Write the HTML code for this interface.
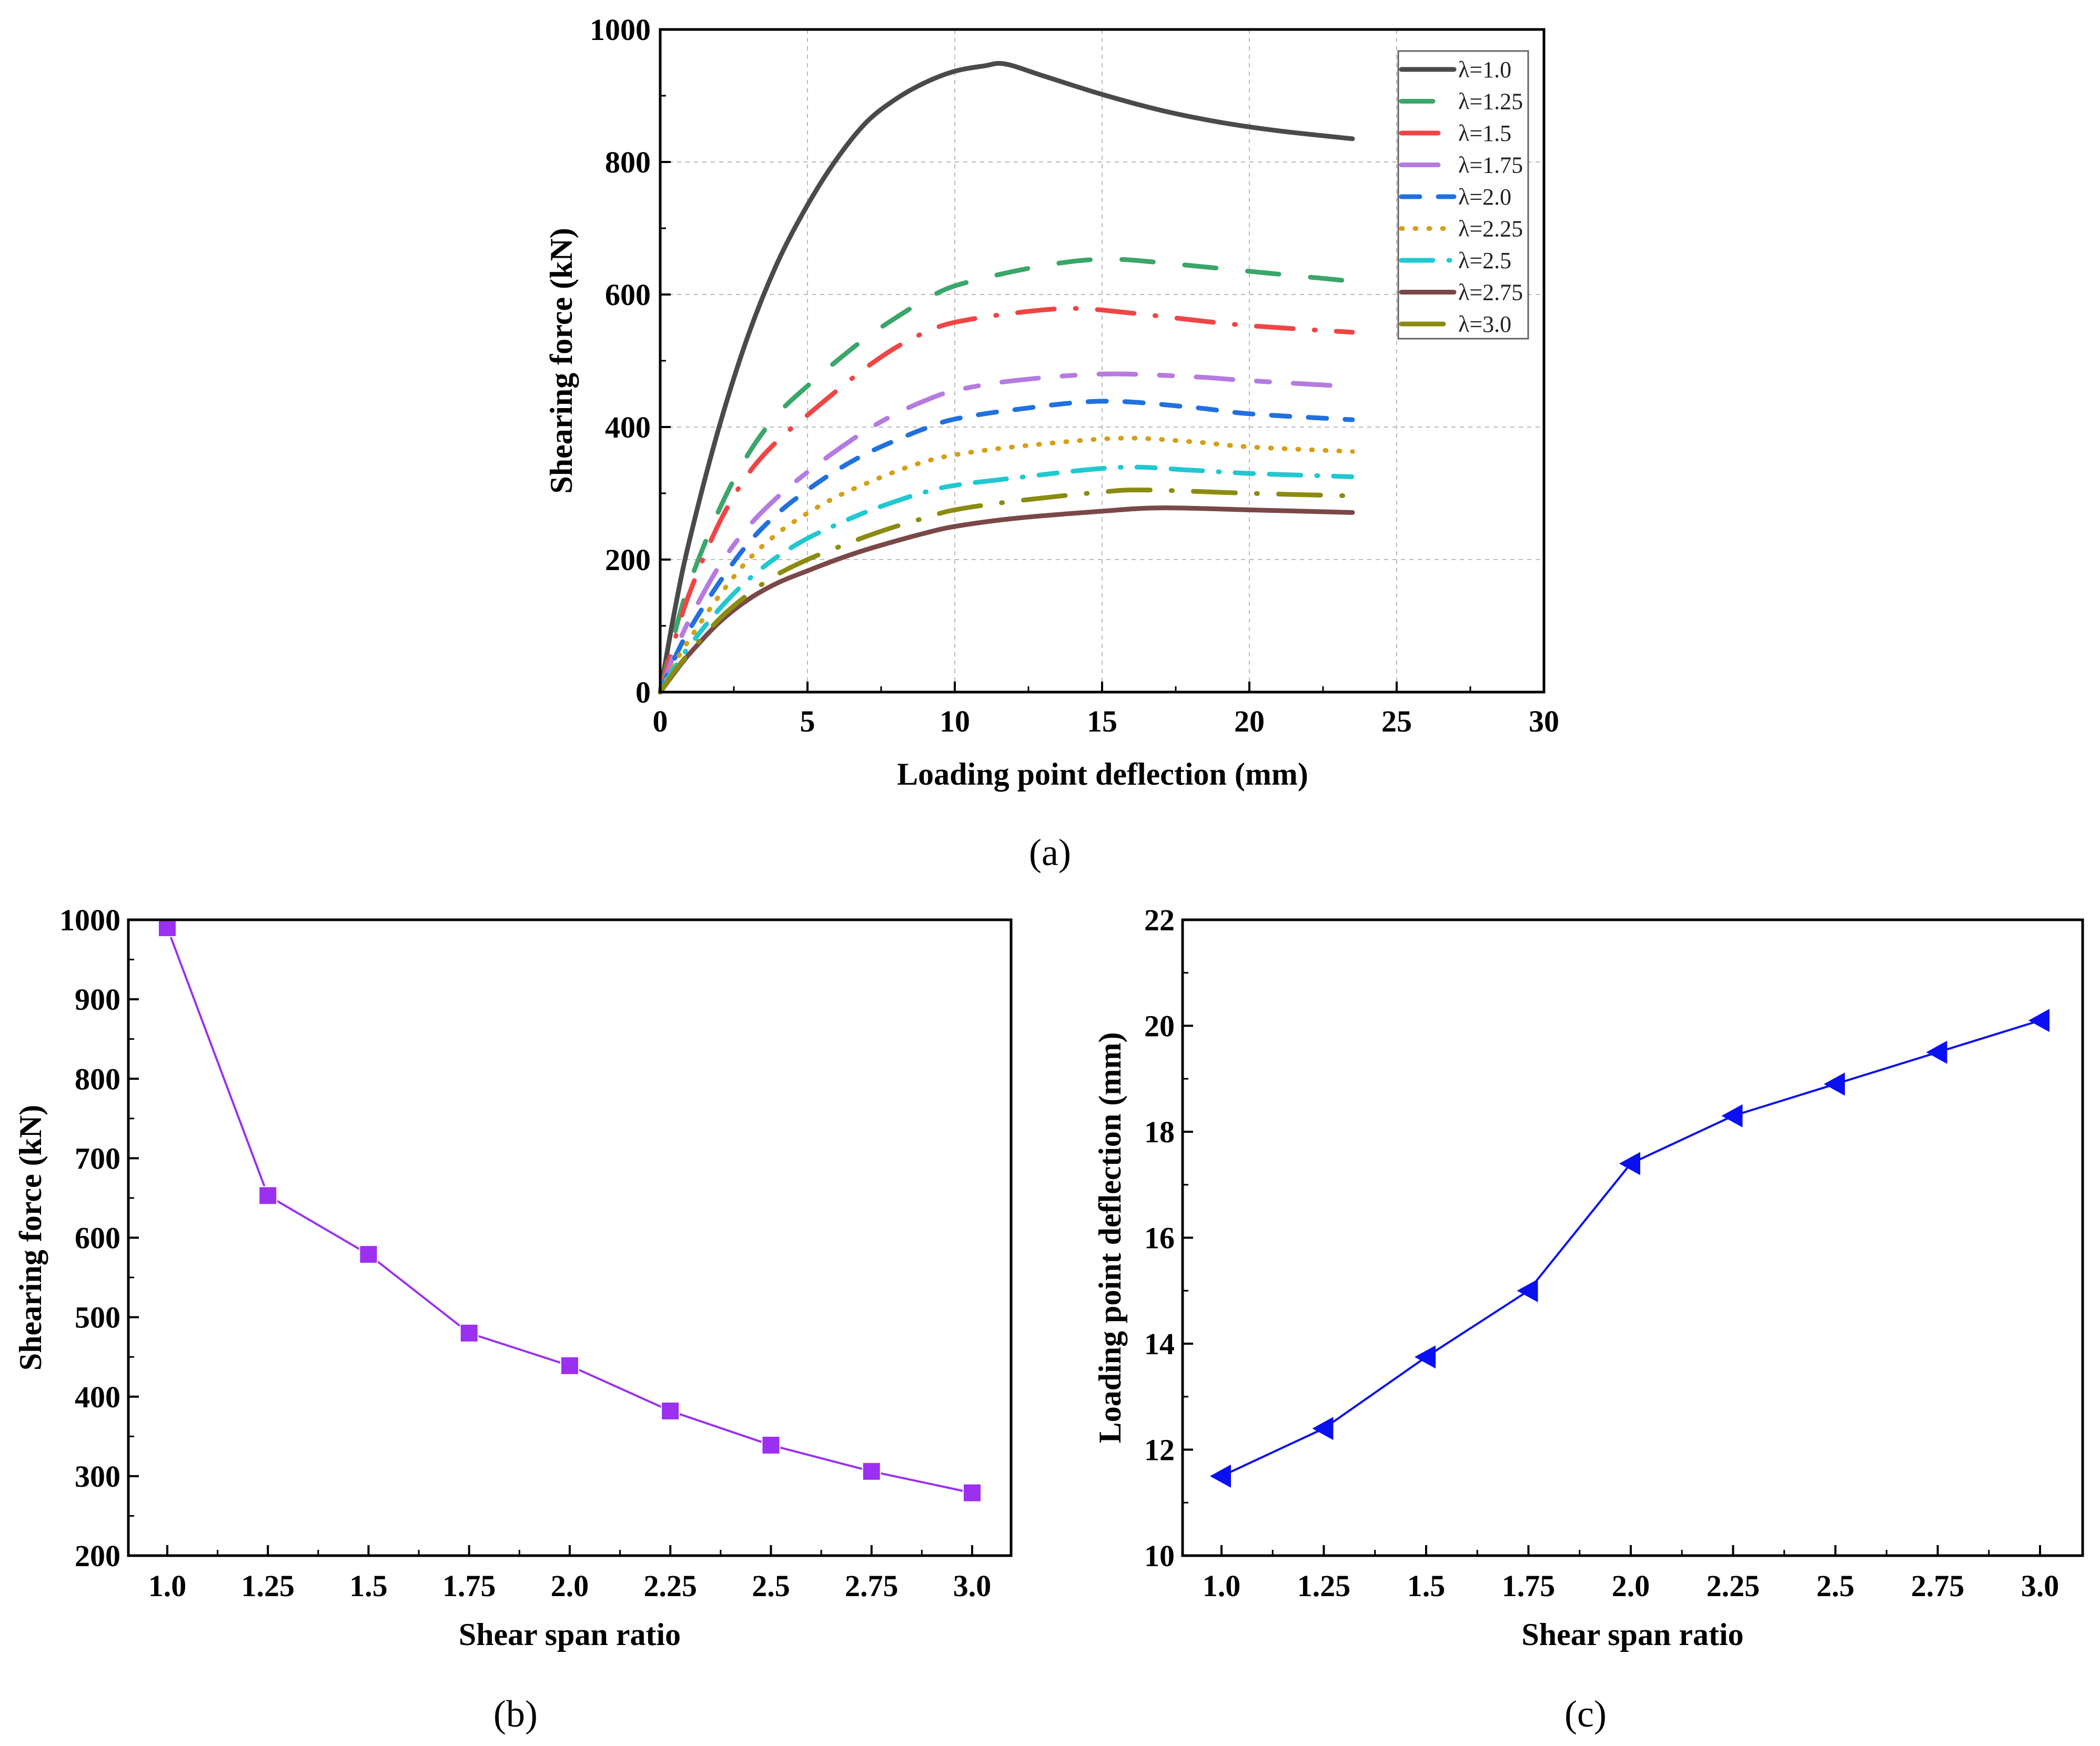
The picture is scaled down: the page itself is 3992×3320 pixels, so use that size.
<!DOCTYPE html>
<html><head><meta charset="utf-8"><style>
html,body{margin:0;padding:0;background:#fff;}
svg{display:block;font-family:"Liberation Serif",serif;}
.tk{font-size:58px;font-weight:bold;fill:#000;}
.ti{font-size:60px;font-weight:bold;fill:#000;}
.lg{font-size:44px;fill:#222;}
.cap{font-size:72px;fill:#000;}
</style></head><body>
<svg id="s" width="3992" height="3320" viewBox="0 0 3992 3320" xmlns="http://www.w3.org/2000/svg"></svg>
<script>
const labelsA=["λ=1.0","λ=1.25","λ=1.5","λ=1.75","λ=2.0","λ=2.25","λ=2.5","λ=2.75","λ=3.0"];
const xsA=[[0,0.5,1,2,3,4,5,6,7,8,9,10,11,11.7,13,15,17,19,21,23.5],
[0,0.5,1,2,3,4,5,6,7,8,9,10,12,14,15.5,17,20,23.5],
[0,0.5,1,2,3,4,5,6,7,8,9,10,12,14,16,18,20,23.5],
[0,0.5,1,2,3,4,5,6,7,8,9,10,12,15,18,20,23.5],
[0,0.5,1,2,3,4,5,6,7,8,9,10,12,15,18,20,23.5],
[0,0.5,1,2,3,4,5,6,7,8,9,10,12,15.5,18,20,23.5],
[0,0.5,1,2,3,4,5,6,7,8,9,10,12,15.5,18,20,23.5],
[0,0.5,1,2,3,4,5,6,7,8,9,10,12,15,17,20,23.5],
[0,0.5,1,2,3,4,5,6,7,8,9,10,12,15,16.5,20,23.5]];
const ysA=[[0,125,230,400,540,650,735,805,860,895,920,937,945,948,930,902,878,860,847,835],
[0,90,165,275,360,420,462,500,535,565,592,613,635,650,653,648,635,620],
[0,80,150,255,330,380,418,455,490,520,543,558,572,579,572,562,553,543],
[0,60,110,190,250,295,332,365,395,420,440,455,470,480,476,470,461],
[0,52,95,165,225,270,305,335,360,380,398,412,426,439,430,420,411],
[0,44,80,145,200,240,270,295,315,333,348,358,370,383,378,370,363],
[0,38,70,125,170,205,232,253,272,288,302,312,323,339,335,330,325],
[0,30,58,105,140,165,183,200,215,228,240,250,262,273,278,275,271],
[0,32,60,110,148,178,200,218,235,250,263,275,288,302,305,300,296]];
const catsB=["1.0","1.25","1.5","1.75","2.0","2.25","2.5","2.75","3.0"];
const valsB=[990,653,579,480,439,382,339,306,279];
const valsC=[11.5,12.4,13.75,15.0,17.4,18.3,18.9,19.5,20.1];
const ticksAx=[0,5,10,15,20,25,30];
const ticksAy=[0,200,400,600,800,1000];
const ticksBy=[200,300,400,500,600,700,800,900,1000];
const ticksCy=[10,12,14,16,18,20,22];

const S=document.getElementById('s');const NS='http://www.w3.org/2000/svg';
function mk(t,a,p,txt){const e=document.createElementNS(NS,t);for(const k in a)e.setAttribute(k,a[k]);if(txt!==undefined)e.textContent=txt;(p||S).appendChild(e);return e;}
const colors=["#4a4a4a","#3aa66a","#f04545","#b57be0","#2070e0","#d4a017","#20c8d0","#7a4848","#8b8b10"];
const dashes=["none","60 60","70 40 2 40","70 45 25 45","35 35","2 24","60 30 2 30 35 30","none","80 40 2 40"];

function smooth(pts){let d='M'+pts[0][0].toFixed(1)+' '+pts[0][1].toFixed(1);
 for(let i=0;i<pts.length-1;i++){const p0=pts[Math.max(0,i-1)],p1=pts[i],p2=pts[i+1],p3=pts[Math.min(pts.length-1,i+2)];
  const c1x=p1[0]+(p2[0]-p0[0])/6,c1y=p1[1]+(p2[1]-p0[1])/6,c2x=p2[0]-(p3[0]-p1[0])/6,c2y=p2[1]-(p3[1]-p1[1])/6;
  d+=' C'+c1x.toFixed(1)+' '+c1y.toFixed(1)+' '+c2x.toFixed(1)+' '+c2y.toFixed(1)+' '+p2[0].toFixed(1)+' '+p2[1].toFixed(1);}
 return d;}

// Chart A
const A={l:1255,r:2935,t:56,b:1316};
const ax=v=>A.l+(v-0)/30*(A.r-A.l), ay=v=>A.b-(v/1000)*(A.b-A.t);
const gA=mk('g',{});  
ticksAx.forEach(v=>{if(v>0&&v<30){const g=mk('line',{x1:ax(v),x2:ax(v),y1:A.t,y2:A.b,stroke:'#bbb','stroke-width':2,'stroke-dasharray':'8 8'},gA);}
 const t=mk('text',{x:ax(v),y:A.b+75,'text-anchor':'middle',class:'tk'},gA,v);
 mk('line',{x1:ax(v),x2:ax(v),y1:A.b,y2:A.b-20,stroke:'#000','stroke-width':4},gA);
 if(v<30)mk('line',{x1:ax(v+2.5),x2:ax(v+2.5),y1:A.b,y2:A.b-11,stroke:'#000','stroke-width':3},gA);});
ticksAy.forEach(v=>{if(v>0&&v<1000){const g=mk('line',{x1:A.l,x2:A.r,y1:ay(v),y2:ay(v),stroke:'#bbb','stroke-width':2,'stroke-dasharray':'8 8'},gA);}
 const t=mk('text',{x:A.l-18,y:ay(v)+20,'text-anchor':'end',class:'tk'},gA,v);
 mk('line',{x1:A.l,x2:A.l+20,y1:ay(v),y2:ay(v),stroke:'#000','stroke-width':4},gA);
 if(v<1000)mk('line',{x1:A.l,x2:A.l+11,y1:ay(v+100),y2:ay(v+100),stroke:'#000','stroke-width':3},gA);});
xsA.forEach((xs,i)=>{const d=smooth(xs.map((x,j)=>[ax(x),ay(ysA[i][j])]));
 const p=mk('path',{d:d,fill:'none',stroke:colors[i],'stroke-width':9,'stroke-dasharray':dashes[i],'stroke-linecap':'round','stroke-linejoin':'round'},gA);
 });
mk('rect',{x:A.l,y:A.t,width:A.r-A.l,height:A.b-A.t,fill:'none',stroke:'#000','stroke-width':5},gA);
const lg=mk('g',{},gA);
mk('rect',{x:2658,y:97,width:247,height:547,fill:'#fff',stroke:'#666','stroke-width':3},lg);
labelsA.forEach((lab,i)=>{const y=132+i*60.5;
 const l=mk('line',{x1:2664,x2:2764,y1:y,y2:y,stroke:colors[i],'stroke-width':9,'stroke-dasharray':dashes[i],'stroke-linecap':'round'},lg);
 const t=mk('text',{x:2772,y:y+15,class:'lg'},lg,lab);});
let t=mk('text',{x:2096,y:1492,'text-anchor':'middle',class:'ti'},gA,'Loading point deflection (mm)');
t=mk('text',{x:0,y:0,'text-anchor':'middle',class:'ti',transform:'translate(1087,686) rotate(-90)'},gA,'Shearing force (kN)');
t=mk('text',{x:1996,y:1645,'text-anchor':'middle',class:'cap'},gA,'(a)');

// Chart B & C
function cat(P,vals,ticks,ymin,ymax,color,marker,name,ytitle,cap,capx,ytx){
 const g=mk('g',{});
 const bx=i=>P.x0+i*(P.x1-P.x0)/8, by=v=>P.b-(v-ymin)/(ymax-ymin)*(P.b-P.t);
 catsB.forEach((c,i)=>{mk('line',{x1:bx(i),x2:bx(i),y1:P.b,y2:P.b-20,stroke:'#000','stroke-width':4},g);
  if(i<8)mk('line',{x1:bx(i+0.5),x2:bx(i+0.5),y1:P.b,y2:P.b-11,stroke:'#000','stroke-width':3},g);
  const t=mk('text',{x:bx(i),y:P.b+77,'text-anchor':'middle',class:'tk'},g,c);});
 const st=ticks[1]-ticks[0];
 ticks.forEach((v,i)=>{mk('line',{x1:P.l,x2:P.l+20,y1:by(v),y2:by(v),stroke:'#000','stroke-width':4},g);
  if(i<ticks.length-1)mk('line',{x1:P.l,x2:P.l+11,y1:by(v+st/2),y2:by(v+st/2),stroke:'#000','stroke-width':3},g);
  const t=mk('text',{x:P.l-15,y:by(v)+20,'text-anchor':'end',class:'tk'},g,v);});
 const ln=mk('polyline',{points:vals.map((v,i)=>bx(i)+','+by(v)).join(' '),fill:'none',stroke:color,'stroke-width':4},g);
 vals.forEach((v,i)=>{let m;const x=bx(i),y=by(v);
  if(marker==='sq')m=mk('rect',{x:x-17,y:y-17,width:34,height:34,fill:color,stroke:'#fff','stroke-width':2},g);
  else m=mk('polygon',{points:(x-22)+','+y+' '+(x+18)+','+(y-22)+' '+(x+18)+','+(y+22),fill:color},g);
  });
 mk('rect',{x:P.l,y:P.t,width:P.r-P.l,height:P.b-P.t,fill:'none',stroke:'#000','stroke-width':5},g);
 let t=mk('text',{x:(P.l+P.r)/2,y:P.b+170,'text-anchor':'middle',class:'ti'},g,'Shear span ratio');
 t=mk('text',{x:0,y:0,'text-anchor':'middle',class:'ti',transform:'translate('+ytx+','+((P.t+P.b)/2)+') rotate(-90)'},g,ytitle);
 t=mk('text',{x:capx,y:3283,'text-anchor':'middle',class:'cap'},g,cap);
}
cat({l:244,r:1922,t:1749,b:2958,x0:318,x1:1848},valsB,ticksBy,200,1000,'#9b30f0','sq','chart-b','Shearing force (kN)','(b)',980,78);
cat({l:2248,r:3959,t:1749,b:2958,x0:2322,x1:3878},valsC,ticksCy,10,22,'#0a10f0','tri','chart-c','Loading point deflection (mm)','(c)',3014,2130);
</script>
</body></html>
